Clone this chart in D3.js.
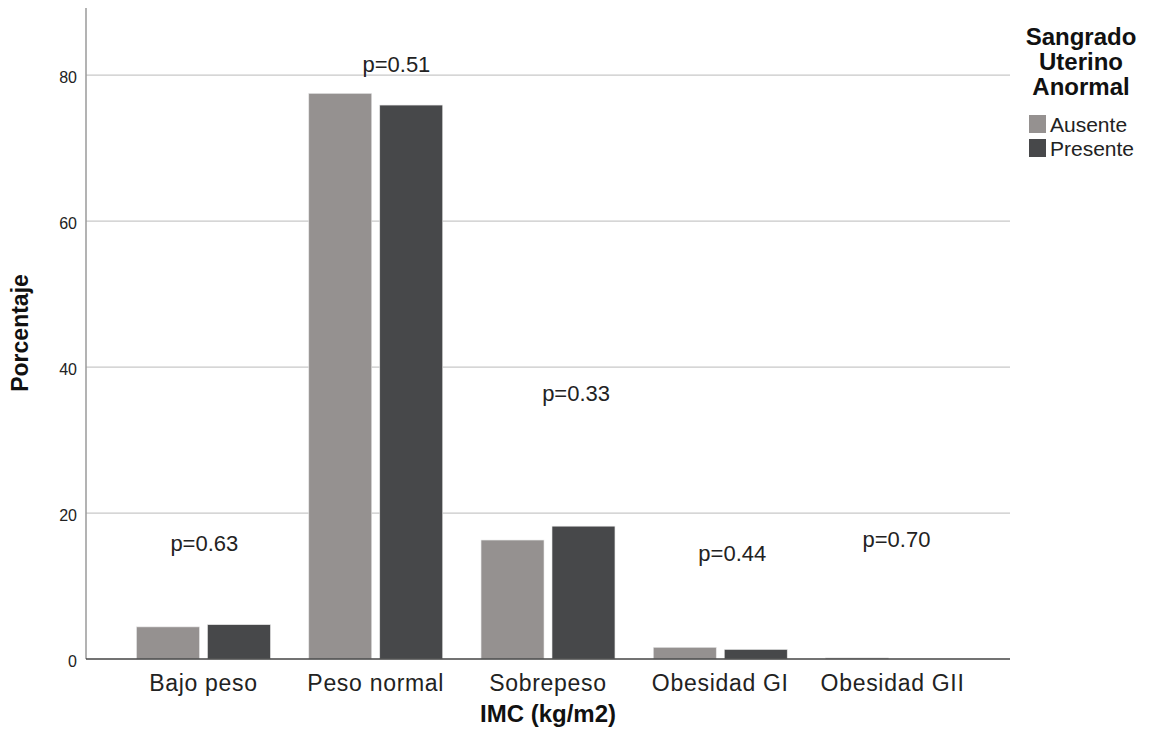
<!DOCTYPE html>
<html>
<head>
<meta charset="utf-8">
<script src="https://cdn.jsdelivr.net/npm/d3@7"></script>
<style>
  html, body { margin: 0; padding: 0; background: #fff; }
  svg { display: block; font-family: "Liberation Sans", Arial, sans-serif; }
</style>
</head>
<body>
<svg id="chart" width="1149" height="750"></svg>
<script>
const categories = ["Bajo peso", "Peso normal", "Sobrepeso", "Obesidad GI", "Obesidad GII"];
const seriesNames = ["Ausente", "Presente"];
const ausente = [4.4, 77.5, 16.3, 1.6, 0.15];
const presente = [4.7, 75.9, 18.2, 1.3, 0];
const yTicks = [0, 20, 40, 60, 80];
const pLabels = ["p=0.63", "p=0.51", "p=0.33", "p=0.44", "p=0.70"];
const pValueY = [14.8, 80.4, 35.3, 13.4, 15.3];
const pShift = [0.005, 0.12, 0.163, 0.07, 0.023];
const colors = ["#959190", "#47484a"];

(function () {
const svg = d3.select("#chart");
const mLeft = 86, mRight = 1010, mTop = 8, mBottom = 659;
const FONT = "Liberation Sans, Arial, sans-serif";

const x = d3.scaleBand().domain(categories).range([mLeft, mRight]).paddingOuter(0.182).paddingInner(0);
const xs = d3.scaleBand().domain(seriesNames).range([0, x.bandwidth()]).paddingOuter(0.27).paddingInner(0.113);
const y = d3.scaleLinear().domain([0, 89.2]).range([mBottom, mTop]);

// gridlines
svg.append("g").selectAll("line").data(yTicks.filter(d => d > 0)).join("line")
  .attr("x1", mLeft).attr("x2", mRight)
  .attr("y1", d => y(d)).attr("y2", d => y(d))
  .attr("stroke", "#c8c8c8").attr("stroke-width", 1.3);

// bars
const data = categories.map((c, i) => ({ c, vals: [ausente[i], presente[i]] }));
const groups = svg.append("g").selectAll("g").data(data).join("g")
  .attr("transform", d => `translate(${x(d.c)},0)`);
groups.selectAll("rect").data(d => d.vals.map((v, j) => ({ v, s: seriesNames[j], j }))).join("rect")
  .attr("x", d => xs(d.s))
  .attr("width", xs.bandwidth())
  .attr("y", d => y(d.v))
  .attr("height", d => y(0) - y(d.v))
  .attr("fill", d => colors[d.j])
  .attr("stroke", "#e6e6e6").attr("stroke-width", 0.6);

// y axis
const yAxis = d3.axisLeft(y).tickValues(yTicks).tickSize(0).tickPadding(9);
const gy = svg.append("g").attr("transform", `translate(${mLeft},0)`).call(yAxis);
gy.select(".domain").remove();
gy.selectAll("text").attr("font-size", 16).attr("fill", "#222").attr("font-family", FONT).attr("dy", "0.45em");
svg.append("line").attr("x1", mLeft).attr("x2", mLeft).attr("y1", mTop).attr("y2", mBottom)
  .attr("stroke", "#9a9a9a").attr("stroke-width", 1.5);

// x axis
const xAxis = d3.axisBottom(x).tickSize(0).tickPadding(16);
const gx = svg.append("g").attr("transform", `translate(0,${mBottom})`).call(xAxis);
gx.select(".domain").remove();
gx.selectAll("text").attr("font-size", 23).attr("letter-spacing", "0.7px")
  .attr("fill", "#222").attr("font-family", FONT);
svg.append("line").attr("x1", mLeft).attr("x2", mRight).attr("y1", mBottom).attr("y2", mBottom)
  .attr("stroke", "#444").attr("stroke-width", 1.3);

// p-value labels
svg.append("g").selectAll("text").data(pLabels).join("text")
  .attr("x", (d, i) => x(categories[i]) + x.bandwidth() * (0.5 + pShift[i]))
  .attr("y", (d, i) => y(pValueY[i]))
  .attr("text-anchor", "middle")
  .attr("font-size", 22).attr("fill", "#222")
  .text(d => d);

// axis titles
svg.append("text").attr("x", 548).attr("y", 722).attr("text-anchor", "middle")
  .attr("font-size", 24).attr("font-weight", "bold").attr("fill", "#111").text("IMC (kg/m2)");
svg.append("text").attr("transform", "translate(28,333) rotate(-90)").attr("text-anchor", "middle")
  .attr("font-size", 23).attr("font-weight", "bold").attr("fill", "#111").text("Porcentaje");

// legend
const legTitle = ["Sangrado", "Uterino", "Anormal"];
svg.append("g").selectAll("text").data(legTitle).join("text")
  .attr("x", 1081).attr("y", (d, i) => 45 + i * 25)
  .attr("text-anchor", "middle").attr("font-size", 24).attr("font-weight", "bold").attr("fill", "#111")
  .text(d => d);
const leg = svg.append("g").selectAll("g").data(seriesNames).join("g")
  .attr("transform", (d, i) => `translate(1029,${115 + i * 24})`);
leg.append("rect").attr("width", 17).attr("height", 18).attr("fill", (d, i) => colors[i]);
leg.append("text").attr("x", 21).attr("y", 17).attr("font-size", 21).attr("fill", "#222").text(d => d);
})();
</script>
</body>
</html>
